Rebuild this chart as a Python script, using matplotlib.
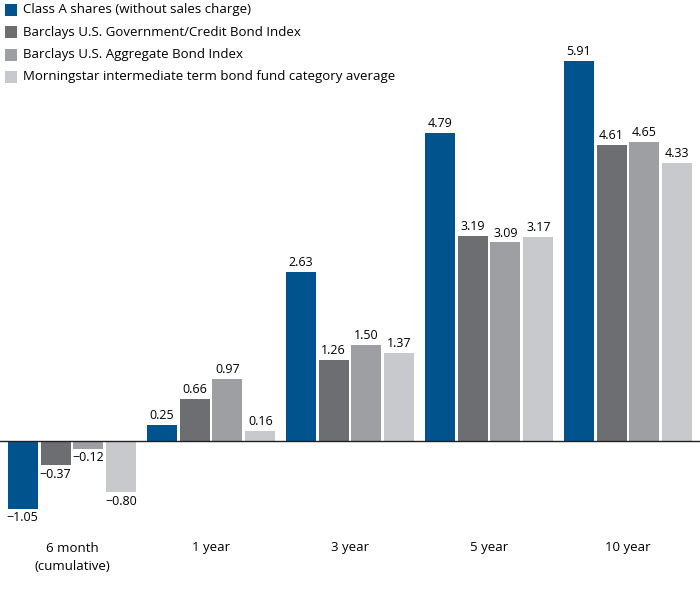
import matplotlib
matplotlib.use("Agg")
import matplotlib.pyplot as plt
from matplotlib.patches import Rectangle
import numpy as np

plt.rcParams['font.family'] = ['Open Sans', 'DejaVu Sans']

categories = ["6 month\n(cumulative)", "1 year", "3 year", "5 year", "10 year"]
series_names = ["Class A shares (without sales charge)",
                "Barclays U.S. Government/Credit Bond Index",
                "Barclays U.S. Aggregate Bond Index",
                "Morningstar intermediate term bond fund category average"]
class_a = [-1.05, 0.25, 2.63, 4.79, 5.91]
gov_credit = [-0.37, 0.66, 1.26, 3.19, 4.61]
aggregate = [-0.12, 0.97, 1.50, 3.09, 4.65]
morningstar = [-0.80, 0.16, 1.37, 3.17, 4.33]
colors = ["#00538C", "#6D6E72", "#9D9FA3", "#C8C9CC"]

W, H = 700, 601
fig = plt.figure(figsize=(W/100, H/100), dpi=100)
top_px, bot_px = 40, 520
ax = fig.add_axes([0, 1 - bot_px/H, 1, (bot_px - top_px)/H])
scale = 64.3
base = 441
ax.set_ylim(-(bot_px - base)/scale, (base - top_px)/scale)
ax.set_xlim(-0.518, 4.518)

x = np.arange(len(categories))
width = 0.216
step = 0.237
all_series = [class_a, gov_credit, aggregate, morningstar]
for i, (vals, c) in enumerate(zip(all_series, colors)):
    xs = x + (i - 1.5) * step
    ax.bar(xs, vals, width=width, color=c, edgecolor='none', zorder=2)
    for xi, v in zip(xs, vals):
        lab = ("\u2212%.2f" % abs(v)) if v < 0 else "%.2f" % v
        if v >= 0:
            ax.annotate(lab, (xi, v), xytext=(0, 2), textcoords='offset points',
                        ha='center', va='bottom', fontsize=9)
        else:
            ax.annotate(lab, (xi, v), xytext=(0, -2), textcoords='offset points',
                        ha='center', va='top', fontsize=9)

ax.axhline(0, color='#231F20', lw=1.0, zorder=3)
ax.axis('off')

for xi, cat in zip(x, categories):
    lines = cat.split("\n")
    for j, ln in enumerate(lines):
        fig.text((72 + 139*xi)/W, 1 - (548 + 18*j)/H, ln, ha='center', va='center', fontsize=9.5)

# legend
for k, (name, c) in enumerate(zip(series_names, colors)):
    yc = 10 + 22.3*k
    fig.patches.append(Rectangle((5/W, 1 - (yc + 6)/H), 12/W, 12/H, transform=fig.transFigure,
                                 facecolor=c, edgecolor='none'))
    fig.text(23/W, 1 - yc/H, name, ha='left', va='center', fontsize=9.5)

fig.savefig("out.png", dpi=100)
